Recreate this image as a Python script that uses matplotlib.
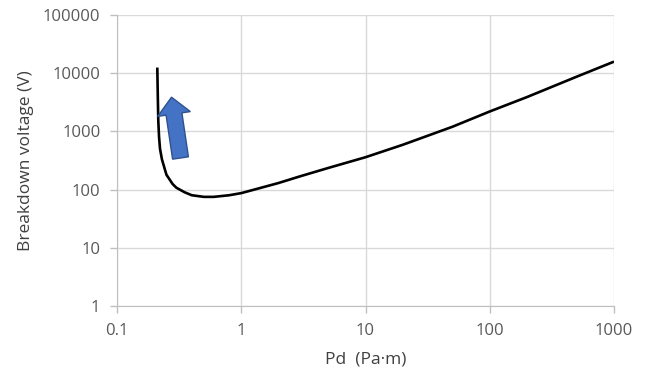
import matplotlib
matplotlib.use('Agg')
import matplotlib.pyplot as plt
from matplotlib.patches import FancyArrow

plt.rcParams['font.family'] = ['Open Sans', 'DejaVu Sans']

# Paschen curve
pd_vals = [0.211, 0.213, 0.215, 0.218, 0.222, 0.23, 0.25, 0.28, 0.3, 0.35, 0.4,
           0.5, 0.6, 0.8, 1, 1.5, 2, 3, 5, 10, 20, 50, 100, 200, 500, 1000]
breakdown_v = [12500, 4000, 1500, 800, 500, 330, 180, 125, 108, 90, 80,
               75, 75, 80, 87, 110, 130, 170, 235, 360, 590, 1200, 2200, 3900, 8700, 15800]

x_ticks = [0.1, 1, 10, 100, 1000]
x_labels = ['0.1', '1', '10', '100', '1000']
y_ticks = [1, 10, 100, 1000, 10000, 100000]
y_labels = ['1', '10', '100', '1000', '10000', '100000']

fig = plt.figure(figsize=(6.48, 3.78), dpi=100)
ax = fig.add_axes([117/648, 72/378, 497/648, 291/378])

ax.plot(pd_vals, breakdown_v, color='black', lw=1.9, solid_capstyle='butt',
        solid_joinstyle='round')
ax.set_xscale('log')
ax.set_yscale('log')
ax.set_xlim(0.1, 1000)
ax.set_ylim(1, 100000)
ax.set_xticks(x_ticks)
ax.set_xticklabels(x_labels)
ax.set_yticks(y_ticks)
ax.set_yticklabels(y_labels)
ax.minorticks_off()
ax.grid(True, color='#d9d9d9', lw=1)
for s in ['top', 'right']:
    ax.spines[s].set_visible(False)
for s in ['left', 'bottom']:
    ax.spines[s].set_color('#bfbfbf')
ax.tick_params(colors='#bfbfbf', labelcolor='#595959', labelsize=12, length=5, width=1)
ax.tick_params(axis='x', pad=7)
ax.tick_params(axis='y', pad=7)
ax.set_xlabel('Pd  (Pa\u00b7m)', fontsize=12.5, color='#404040', labelpad=9)
ax.set_ylabel('Breakdown voltage (V)', fontsize=12.5, color='#404040', labelpad=6)

# blue arrow overlay in pixel coordinates
ov = fig.add_axes([0, 0, 1, 1])
ov.set_xlim(0, 648)
ov.set_ylim(378, 0)
ov.axis('off')
ov.add_patch(FancyArrow(180.5, 158, -6.5, -44, width=16, head_width=33,
                        head_length=17, length_includes_head=False,
                        fc='#4472c4', ec='#2f528f', lw=1))

fig.savefig('out.png', dpi=100)
